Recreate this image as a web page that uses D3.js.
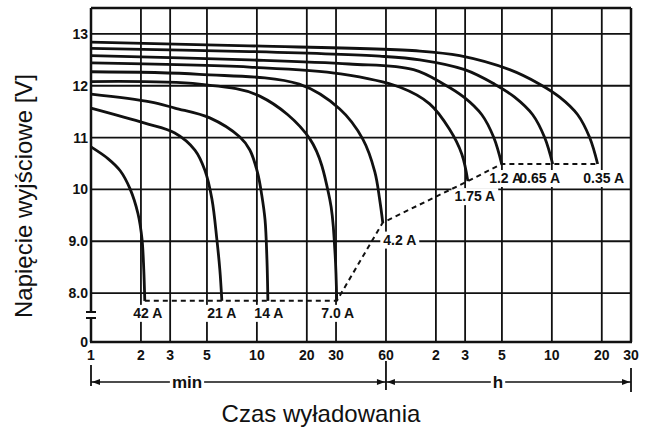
<!DOCTYPE html>
<html>
<head>
<meta charset="utf-8">
<script src="https://cdn.jsdelivr.net/npm/d3@7"></script>
<style>
body { margin: 0; background: #fff; }
svg { display: block; }
text { font-family: "Liberation Sans", Arial, sans-serif; fill: #111; }
.tk { font-weight: bold; font-size: 14px; }
.lab { font-weight: bold; font-size: 14px; }
</style>
</head>
<body>
<script>
// discharge curves: [time in minutes, output voltage in V]
var a42   = [[1,10.82],[1.27,10.59],[1.5,10.36],[1.72,10.01],[1.92,9.53],[2.03,9.04],[2.08,8.46],[2.11,7.85]];
var a21   = [[1,11.57],[2.11,11.28],[3.2,11.09],[4.23,10.76],[4.86,10.37],[5.36,9.81],[5.74,9.03],[5.98,8.45],[6.15,7.85]];
var a14   = [[1,11.84],[2.27,11.69],[3.2,11.57],[5.2,11.38],[7.9,11.01],[9.07,10.76],[10.1,10.32],[10.7,9.89],[11.2,9.41],[11.5,8.64],[11.65,7.85]];
var a7_0  = [[1,12.08],[4.5,12.03],[10.4,11.8],[20.9,10.97],[27.5,9.81],[29.5,8.84],[30.3,7.85]];
var a4_2  = [[1,12.27],[4.5,12.22],[18,12.03],[31.6,11.55],[43.5,10.97],[51.4,10.34],[55,9.8],[57.4,9.36]];
var a1_75 = [[1,12.44],[9,12.36],[32,12.23],[73,11.97],[110,11.65],[145,11.16],[172,10.68],[187,10.16]];
var a1_2  = [[1,12.58],[9,12.5],[36,12.42],[88,12.31],[134,12.03],[177,11.78],[227,11.44],[268,11.0],[299,10.49]];
var a0_65 = [[1,12.72],[9,12.66],[55,12.57],[96,12.5],[179,12.31],[271,12.03],[358,11.78],[460,11.44],[543,11.0],[607,10.49]];
var a0_35 = [[1,12.84],[9,12.77],[96,12.67],[167,12.58],[334,12.31],[507,12.03],[669,11.78],[859,11.44],[1014,11.0],[1133,10.49]];

var currents = ["42 A", "21 A", "14 A", "7.0 A", "4.2 A", "1.75 A", "1.2 A", "0.65 A", "0.35 A"];

var xTicks = [1, 2, 3, 5, 10, 20, 30, 60, 120, 180, 300, 600, 1200, 1800];
var xTickLabels = ["1", "2", "3", "5", "10", "20", "30", "60", "2", "3", "5", "10", "20", "30"];
var yTicks = [0, 8, 9, 10, 11, 12, 13];
var yTickLabels = ["0", "8.0", "9.0", "10", "11", "12", "13"];

var curves = [a42, a21, a14, a7_0, a4_2, a1_75, a1_2, a0_65, a0_35];
// label offsets from curve end point (pixels)
var labDx = [3, 0, 1, 1, 17, 7, 4, -13, 6];
var labDy = [17, 17, 17, 17, 22, 20, 19, 19, 19];

var x = d3.scaleLog().domain([1, 1800]).range([91, 631]);
var y = d3.scaleLinear().domain([0, 7.5, 13.5]).range([342, 319, 8]);

var svg = d3.select("body").append("svg")
    .attr("width", 646)
    .attr("height", 429);

// grid
svg.append("g").selectAll("line")
    .data(xTicks.slice(1, -1))
    .enter().append("line")
    .attr("x1", function(d){ return x(d); })
    .attr("x2", function(d){ return x(d); })
    .attr("y1", y(13.5))
    .attr("y2", y(0))
    .style("stroke", "#111")
    .style("stroke-width", 1.8);

svg.append("g").selectAll("line")
    .data(yTicks.slice(1))
    .enter().append("line")
    .attr("x1", x(1))
    .attr("x2", x(1800))
    .attr("y1", function(d){ return y(d); })
    .attr("y2", function(d){ return y(d); })
    .style("stroke", "#111")
    .style("stroke-width", 1.8);

// labels go on white patches that hide the grid under them
var ends = curves.map(function(c){ return c[c.length - 1]; });
var labs = svg.append("g");
currents.forEach(function(s, i){
    var cx = x(ends[i][0]) + labDx[i];
    var cy = y(ends[i][1]) + labDy[i];
    var t = labs.append("text")
        .attr("class", "lab")
        .attr("x", cx)
        .attr("y", cy)
        .attr("text-anchor", "middle")
        .text(s);
    var b = t.node().getBBox();
    labs.insert("rect", "text")
        .attr("x", b.x - 3)
        .attr("y", cy - 13)
        .attr("width", b.width + 6)
        .attr("height", 17)
        .style("fill", "#fff");
});

// frame
var frame = svg.append("g").style("stroke", "#111").style("stroke-width", 2.5);
frame.append("line").attr("x1", x(1)).attr("x2", x(1800)).attr("y1", y(13.5)).attr("y2", y(13.5));
frame.append("line").attr("x1", x(1) - 1).attr("x2", x(1800) + 1).attr("y1", y(0)).attr("y2", y(0));
frame.append("line").attr("x1", x(1800)).attr("x2", x(1800)).attr("y1", y(13.5)).attr("y2", y(0));
frame.append("line").attr("x1", x(1)).attr("x2", x(1)).attr("y1", y(13.5)).attr("y2", 312);
frame.append("line").attr("x1", x(1)).attr("x2", x(1)).attr("y1", 318).attr("y2", y(0));
frame.append("line").attr("x1", x(1) - 5).attr("x2", x(1) + 5).attr("y1", 312).attr("y2", 312).style("stroke-width", 2);
frame.append("line").attr("x1", x(1) - 5).attr("x2", x(1) + 5).attr("y1", 318).attr("y2", 318).style("stroke-width", 2);

// curves
var line = d3.line()
    .x(function(d){ return x(d[0]); })
    .y(function(d){ return y(d[1]); })
    .curve(d3.curveCatmullRom.alpha(0.5));

svg.append("g").selectAll("path")
    .data(curves)
    .enter().append("path")
    .attr("d", line)
    .style("fill", "none")
    .style("stroke", "#111")
    .style("stroke-width", 2.8);

// cut-off line through the curve ends
var cut = ends.slice().sort(function(a, b){ return a[0] - b[0]; });
svg.append("path")
    .attr("d", d3.line().x(function(d){ return x(d[0]); }).y(function(d){ return y(d[1]); })(cut))
    .style("fill", "none")
    .style("stroke", "#111")
    .style("stroke-width", 2)
    .style("stroke-dasharray", "5,4");

// tick labels
svg.append("g").selectAll("text")
    .data(xTicks)
    .enter().append("text")
    .attr("class", "tk")
    .attr("x", function(d){ return x(d); })
    .attr("y", 360)
    .attr("text-anchor", "middle")
    .text(function(d, i){ return xTickLabels[i]; });

svg.append("g").selectAll("text")
    .data(yTicks)
    .enter().append("text")
    .attr("class", "tk")
    .attr("x", 88)
    .attr("y", function(d){ return y(d) + 5; })
    .attr("text-anchor", "end")
    .text(function(d, i){ return yTickLabels[i]; });

// min / h spans
function span(t0, t1, s, tx){
    var x0 = x(t0), x1 = x(t1), yy = 382;
    var g = svg.append("g");
    g.append("line").attr("x1", x0).attr("x2", x1).attr("y1", yy).attr("y2", yy)
        .style("stroke", "#111").style("stroke-width", 1.6);
    g.append("path").attr("d", "M" + (x0 + 1) + "," + yy + "l8,-3v6z").style("fill", "#111");
    g.append("path").attr("d", "M" + (x1 - 1) + "," + yy + "l-8,-3v6z").style("fill", "#111");
    var t = g.append("text")
        .attr("x", tx)
        .attr("y", yy + 6)
        .attr("text-anchor", "middle")
        .style("font-weight", "bold")
        .style("font-size", "17px")
        .text(s);
    var b = t.node().getBBox();
    g.insert("rect", "text").attr("x", b.x - 2).attr("y", yy - 3).attr("width", b.width + 4).attr("height", 6).style("fill", "#fff");
}
span(1, 60, "min", 187);
span(60, 1800, "h", 498);

svg.append("g").selectAll("line")
    .data([[1, 365, 386], [60, 361, 390], [1800, 368, 392]])
    .enter().append("line")
    .attr("x1", function(d){ return x(d[0]); })
    .attr("x2", function(d){ return x(d[0]); })
    .attr("y1", function(d){ return d[1]; })
    .attr("y2", function(d){ return d[2]; })
    .style("stroke", "#111")
    .style("stroke-width", 1.8);

// axis titles
svg.append("text")
    .attr("transform", "translate(32,196) rotate(-90)")
    .attr("text-anchor", "middle")
    .style("font-size", "24px")
    .text("Napięcie wyjściowe [V]");

svg.append("text")
    .attr("x", 321)
    .attr("y", 422)
    .attr("text-anchor", "middle")
    .style("font-size", "24px")
    .text("Czas wyładowania");
</script>
</body>
</html>
